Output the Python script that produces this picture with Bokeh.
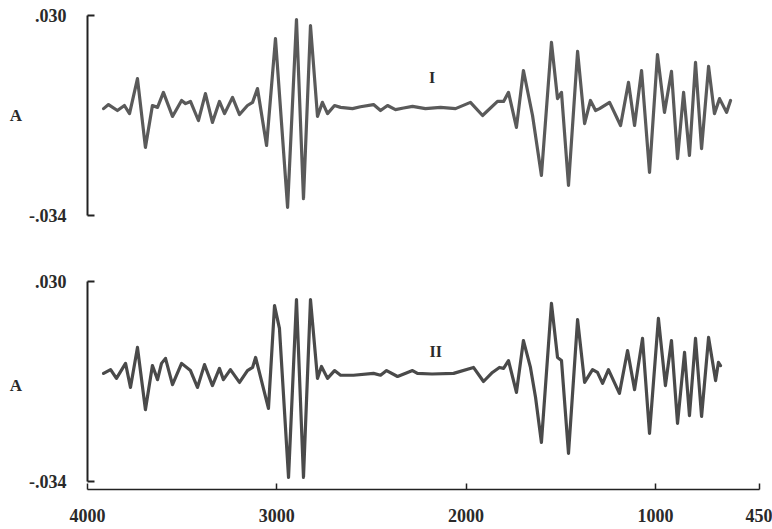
from bokeh.plotting import figure
from bokeh.layouts import column
from bokeh.models import Range1d, FixedTicker, Label
from bokeh.embed import file_html
from bokeh.resources import INLINE

# Spectrum I (cm-1, absorbance)
wavenumber_i = [3915, 3889, 3842, 3805, 3778, 3736, 3694, 3657, 3630, 3599,
                3551, 3503, 3482, 3456, 3414, 3377, 3340, 3303, 3276, 3234,
                3197, 3155, 3128, 3102, 3054, 3007, 2943, 2896, 2859, 2822,
                2785, 2759, 2732, 2695, 2663, 2600, 2558, 2489, 2452, 2415,
                2373, 2330, 2283, 2215, 2135, 2056, 1977, 1913, 1834, 1802,
                1776, 1734, 1697, 1649, 1602, 1549, 1517, 1496, 1459, 1411,
                1374, 1343, 1316, 1295, 1242, 1184, 1142, 1110, 1073, 1031,
                989, 952, 915, 883, 851, 820, 788, 756, 719, 688,
                661, 624, 603]
absorbance_i = [0.0002, 0.0015, -0.0004, 0.0012, -0.0014, 0.0098, -0.0122, 0.0012, 0.0006, 0.0054,
                -0.0023, 0.0028, 0.0018, 0.0025, -0.0036, 0.0050, -0.0042, 0.0025, -0.0014, 0.0038,
                -0.0017, 0.0012, 0.0022, 0.0066, -0.0116, 0.0226, -0.0314, 0.0287, -0.0286, 0.0268,
                -0.0023, 0.0022, -0.0014, 0.0012, 0.0006, 0.0002, 0.0008, 0.0015, -0.0004, 0.0012,
                -0.0001, 0.0004, 0.0009, 0.0002, 0.0006, 0.0002, 0.0022, -0.0020, 0.0025, 0.0025,
                0.0054, -0.0058, 0.0124, -0.0020, -0.0212, 0.0214, 0.0034, 0.0054, -0.0244, 0.0185,
                -0.0046, 0.0028, -0.0004, 0.0002, 0.0022, -0.0052, 0.0086, -0.0052, 0.0124, -0.0202,
                0.0175, -0.0010, 0.0121, -0.0158, 0.0054, -0.0148, 0.0150, -0.0126, 0.0137, -0.0014,
                0.0034, -0.0010, 0.0028]

# Spectrum II (cm-1, absorbance)
wavenumber_ii = [3915, 3878, 3847, 3799, 3773, 3736, 3694, 3657, 3630, 3609,
                 3588, 3551, 3503, 3456, 3419, 3382, 3340, 3303, 3282, 3245,
                 3197, 3155, 3128, 3112, 3044, 3012, 2986, 2938, 2896, 2859,
                 2822, 2785, 2764, 2732, 2695, 2663, 2595, 2489, 2452, 2420,
                 2362, 2283, 2257, 2180, 2066, 1961, 1908, 1861, 1824, 1802,
                 1776, 1734, 1697, 1660, 1633, 1602, 1549, 1517, 1496, 1459,
                 1411, 1374, 1332, 1306, 1279, 1248, 1190, 1147, 1110, 1068,
                 1031, 984, 947, 915, 883, 846, 820, 788, 756, 719,
                 682, 667, 656]
absorbance_ii = [0.0006, 0.0018, -0.0010, 0.0038, -0.0039, 0.0089, -0.0110, 0.0031, -0.0014, 0.0038,
                 0.0054, -0.0030, 0.0038, 0.0015, -0.0039, 0.0034, -0.0033, 0.0022, -0.0014, 0.0018,
                 -0.0023, 0.0015, 0.0025, 0.0057, -0.0106, 0.0223, 0.0150, -0.0327, 0.0242, -0.0327,
                 0.0242, -0.0010, 0.0028, -0.0010, 0.0015, 0.0000, 0.0000, 0.0006, 0.0000, 0.0015,
                 -0.0004, 0.0015, 0.0006, 0.0004, 0.0006, 0.0025, -0.0020, 0.0009, 0.0025, 0.0022,
                 0.0047, -0.0055, 0.0111, 0.0025, -0.0071, -0.0215, 0.0230, 0.0057, 0.0047, -0.0250,
                 0.0178, -0.0023, 0.0018, 0.0009, -0.0026, 0.0018, -0.0058, 0.0079, -0.0046, 0.0118,
                 -0.0186, 0.0182, -0.0033, 0.0111, -0.0154, 0.0073, -0.0129, 0.0118, -0.0132, 0.0121,
                 -0.0017, 0.0041, 0.0031]

y_ticks = [0.030, -0.034]
y_tick_labels = [".030", "-.034"]
x_ticks = [4000, 3000, 2000, 1000, 450]
x_tick_labels = ["4000", "3000", "2000", "1000", "450"]
trace_names = ["I", "II"]
name_pos_i = (2180, 0.0102)
name_pos_ii = (2160, 0.0076)

FONT = "Liberation Serif"
AXIS_COLOR = "#222222"
TEXT_COLOR = "#2a2a2a"


def style_y_axis(p, bounds):
    ax = p.yaxis[0]
    ax.ticker = FixedTicker(ticks=y_ticks)
    ax.major_label_overrides = dict(zip(y_ticks, y_tick_labels))
    ax.bounds = bounds
    ax.minor_tick_line_color = None
    ax.major_tick_in = 7
    ax.major_tick_out = 0
    ax.major_tick_line_width = 2
    ax.major_tick_line_color = AXIS_COLOR
    ax.axis_line_width = 2
    ax.axis_line_color = AXIS_COLOR
    ax.major_label_standoff = 21
    ax.major_label_text_font = FONT
    ax.major_label_text_font_style = "bold"
    ax.major_label_text_font_size = "18px"
    ax.major_label_text_color = TEXT_COLOR
    ax.axis_label = "A"
    ax.axis_label_orientation = "horizontal"
    ax.axis_label_standoff = 4
    ax.axis_label_text_font = FONT
    ax.axis_label_text_font_style = "bold"
    ax.axis_label_text_font_size = "17px"
    ax.axis_label_text_color = TEXT_COLOR


x_range = Range1d(4000, 450)

# Upper panel: spectrum I, no horizontal axis
top = figure(width=772, height=250, x_range=x_range, y_range=Range1d(-0.034, 0.030),
             x_axis_location=None, output_backend="svg", toolbar_location=None,
             min_border_left=87, min_border_right=13, min_border_top=15, min_border_bottom=35)
top.outline_line_color = None
top.grid.visible = False
style_y_axis(top, (-0.034, 0.030))
top.line(wavenumber_i, absorbance_i, line_color="#5a5a5a", line_width=3.2,
         line_join="round", line_cap="round")
top.add_layout(Label(x=name_pos_i[0], y=name_pos_i[1], text=trace_names[0], text_align="center",
                     text_baseline="middle", text_font=FONT, text_font_style="bold",
                     text_font_size="16px", text_color=TEXT_COLOR))

# Lower panel: spectrum II with the wavenumber axis
y_pad = 8 * 0.064 / 200
bottom = figure(width=772, height=279, x_range=x_range, y_range=Range1d(-0.034 - y_pad, 0.030),
                output_backend="svg", toolbar_location=None,
                min_border_left=87, min_border_right=13, min_border_top=31, min_border_bottom=40)
bottom.outline_line_color = None
bottom.grid.visible = False
style_y_axis(bottom, (-0.034, 0.030))
xa = bottom.xaxis[0]
xa.ticker = FixedTicker(ticks=x_ticks)
xa.major_label_overrides = dict(zip(x_ticks, x_tick_labels))
xa.minor_tick_line_color = None
xa.major_tick_in = 6
xa.major_tick_out = 0
xa.major_tick_line_width = 1.5
xa.major_tick_line_color = AXIS_COLOR
xa.axis_line_width = 1.5
xa.axis_line_color = AXIS_COLOR
xa.major_label_standoff = 19
xa.major_label_text_font = FONT
xa.major_label_text_font_style = "bold"
xa.major_label_text_font_size = "18px"
xa.major_label_text_color = TEXT_COLOR
bottom.line(wavenumber_ii, absorbance_ii, line_color="#4a4a4a", line_width=3.2,
            line_join="round", line_cap="round")
bottom.add_layout(Label(x=name_pos_ii[0], y=name_pos_ii[1], text=trace_names[1], text_align="center",
                        text_baseline="middle", text_font=FONT, text_font_style="bold",
                        text_font_size="16px", text_color=TEXT_COLOR))

layout = column(top, bottom)
open("out.html", "w").write(file_html(layout, INLINE))
